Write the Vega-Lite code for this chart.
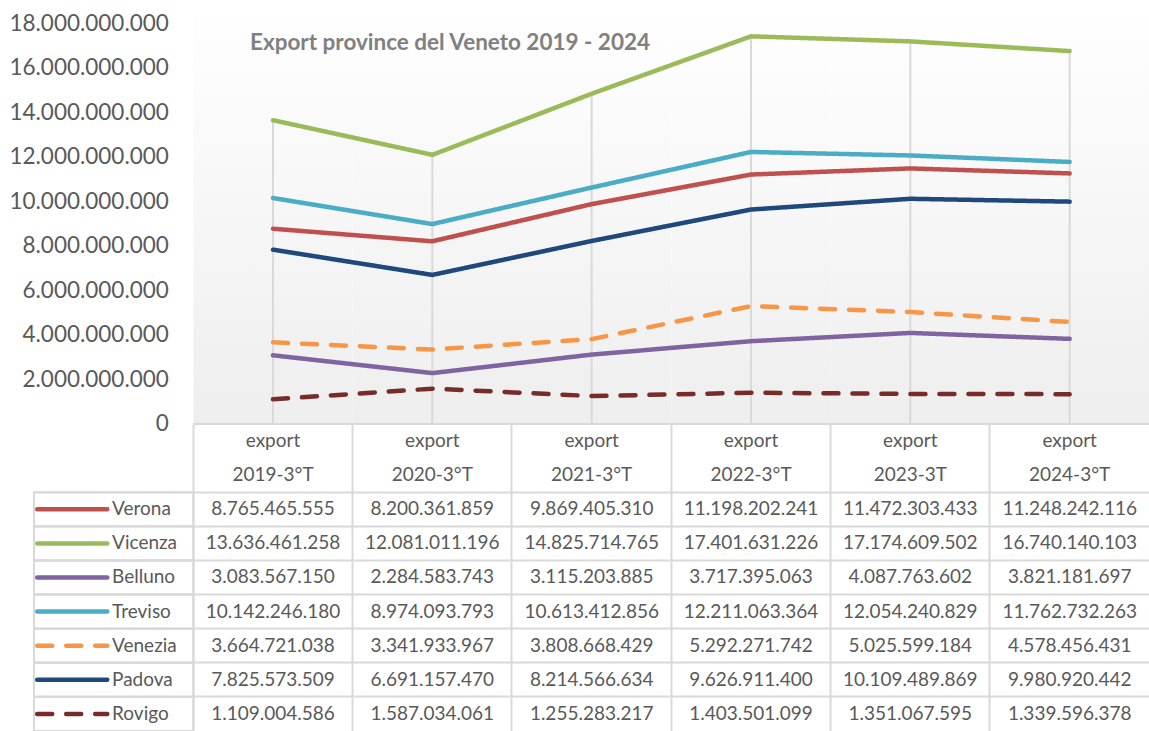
{
  "$schema": "https://vega.github.io/schema/vega-lite/v6.json",
  "padding": 0,
  "background": "white",
  "spacing": 0,
  "bounds": "flush",
  "config": {
    "font": "Lato",
    "view": {"stroke": null},
    "locale": {"number": {"decimal": ",", "thousands": ".", "grouping": [3], "currency": ["€", ""]}}
  },
  "data": {
    "values": [
      {"province": "Verona", "year": "2019-3°T", "value": 8765465555},
      {"province": "Verona", "year": "2020-3°T", "value": 8200361859},
      {"province": "Verona", "year": "2021-3°T", "value": 9869405310},
      {"province": "Verona", "year": "2022-3°T", "value": 11198202241},
      {"province": "Verona", "year": "2023-3T", "value": 11472303433},
      {"province": "Verona", "year": "2024-3°T", "value": 11248242116},
      {"province": "Vicenza", "year": "2019-3°T", "value": 13636461258},
      {"province": "Vicenza", "year": "2020-3°T", "value": 12081011196},
      {"province": "Vicenza", "year": "2021-3°T", "value": 14825714765},
      {"province": "Vicenza", "year": "2022-3°T", "value": 17401631226},
      {"province": "Vicenza", "year": "2023-3T", "value": 17174609502},
      {"province": "Vicenza", "year": "2024-3°T", "value": 16740140103},
      {"province": "Belluno", "year": "2019-3°T", "value": 3083567150},
      {"province": "Belluno", "year": "2020-3°T", "value": 2284583743},
      {"province": "Belluno", "year": "2021-3°T", "value": 3115203885},
      {"province": "Belluno", "year": "2022-3°T", "value": 3717395063},
      {"province": "Belluno", "year": "2023-3T", "value": 4087763602},
      {"province": "Belluno", "year": "2024-3°T", "value": 3821181697},
      {"province": "Treviso", "year": "2019-3°T", "value": 10142246180},
      {"province": "Treviso", "year": "2020-3°T", "value": 8974093793},
      {"province": "Treviso", "year": "2021-3°T", "value": 10613412856},
      {"province": "Treviso", "year": "2022-3°T", "value": 12211063364},
      {"province": "Treviso", "year": "2023-3T", "value": 12054240829},
      {"province": "Treviso", "year": "2024-3°T", "value": 11762732263},
      {"province": "Venezia", "year": "2019-3°T", "value": 3664721038},
      {"province": "Venezia", "year": "2020-3°T", "value": 3341933967},
      {"province": "Venezia", "year": "2021-3°T", "value": 3808668429},
      {"province": "Venezia", "year": "2022-3°T", "value": 5292271742},
      {"province": "Venezia", "year": "2023-3T", "value": 5025599184},
      {"province": "Venezia", "year": "2024-3°T", "value": 4578456431},
      {"province": "Padova", "year": "2019-3°T", "value": 7825573509},
      {"province": "Padova", "year": "2020-3°T", "value": 6691157470},
      {"province": "Padova", "year": "2021-3°T", "value": 8214566634},
      {"province": "Padova", "year": "2022-3°T", "value": 9626911400},
      {"province": "Padova", "year": "2023-3T", "value": 10109489869},
      {"province": "Padova", "year": "2024-3°T", "value": 9980920442},
      {"province": "Rovigo", "year": "2019-3°T", "value": 1109004586},
      {"province": "Rovigo", "year": "2020-3°T", "value": 1587034061},
      {"province": "Rovigo", "year": "2021-3°T", "value": 1255283217},
      {"province": "Rovigo", "year": "2022-3°T", "value": 1403501099},
      {"province": "Rovigo", "year": "2023-3T", "value": 1351067595},
      {"province": "Rovigo", "year": "2024-3°T", "value": 1339596378}
    ]
  },
  "resolve": {"scale": {"x": "independent", "y": "independent", "color": "shared", "strokeDash": "shared", "strokeWidth": "shared"}},
  "vconcat": [
    {
      "width": 1115.333,
      "height": 424,
      "layer": [
        {
          "transform": [{"filter": "datum.province === 'Vicenza'"}],
          "mark": {"type": "rect", "color": {"gradient": "linear", "x1": 0, "y1": 0, "x2": 0, "y2": 1, "stops": [{"offset": 0, "color": "#ffffff"}, {"offset": 1, "color": "#eeeeee"}]}},
          "encoding": {
            "x": {
              "field": "year", "type": "nominal",
              "scale": {"type": "band", "paddingInner": 0, "paddingOuter": 0, "domain": ["legend", "2019-3°T", "2020-3°T", "2021-3°T", "2022-3°T", "2023-3T", "2024-3°T"]},
              "axis": null
            },
            "y": {
              "datum": 19032418953, "type": "quantitative",
              "scale": {"domain": [0, 19032418953], "nice": false, "zero": true},
              "axis": {"title": null, "offset": -159.333, "values": [0, 2000000000, 4000000000, 6000000000, 8000000000, 10000000000, 12000000000, 14000000000, 16000000000, 18000000000], "format": ",d", "labelFontSize": 22.5, "labelColor": "#595959", "labelPadding": 25, "ticks": false, "domain": false, "grid": false}
            },
            "y2": {"datum": 0}
          }
        },
        {
          "transform": [{"filter": "datum.province === 'Vicenza'"}],
          "mark": {"type": "rule", "color": "#d9d9d9", "strokeWidth": 2},
          "encoding": {
            "x": {"field": "year", "type": "nominal", "bandPosition": 0.5},
            "y": {"field": "value", "type": "quantitative"},
            "y2": {"datum": 0}
          }
        },
        {
          "mark": {"type": "line", "strokeCap": "round", "strokeJoin": "round"},
          "encoding": {
            "x": {"field": "year", "type": "nominal", "bandPosition": 0.5},
            "y": {"field": "value", "type": "quantitative"},
            "color": {
              "field": "province", "type": "nominal",
              "scale": {"domain": ["Verona", "Vicenza", "Belluno", "Treviso", "Venezia", "Padova", "Rovigo"], "range": ["#c0504d", "#9bbb59", "#8064a2", "#4bacc6", "#f79646", "#1f497d", "#772c2a"]},
              "legend": null
            },
            "strokeDash": {
              "field": "province", "type": "nominal",
              "scale": {"domain": ["Verona", "Vicenza", "Belluno", "Treviso", "Venezia", "Padova", "Rovigo"], "range": [[1, 0], [1, 0], [1, 0], [1, 0], [15, 14], [1, 0], [15, 14]]},
              "legend": null
            },
            "strokeWidth": {
              "field": "province", "type": "nominal",
              "scale": {"domain": ["Verona", "Vicenza", "Belluno", "Treviso", "Venezia", "Padova", "Rovigo"], "range": [4.5, 4.5, 4.5, 4.5, 6.5, 4.5, 6.5]},
              "legend": null
            }
          }
        },
        {
          "data": {"values": [{}]},
          "mark": {"type": "text", "align": "left", "baseline": "middle", "dx": -23, "dy": 1, "fontSize": 22.5, "fontWeight": "bold", "color": "#808080"},
          "encoding": {
            "x": {"datum": "2019-3°T", "bandPosition": 0.5},
            "y": {"datum": 17147000000},
            "text": {"value": "Export province del Veneto 2019 - 2024"}
          }
        }
      ]
    },
    {
      "width": 1115.333,
      "height": 307,
      "encoding": {
        "x": {
          "field": "year", "type": "nominal",
          "scale": {"type": "band", "paddingInner": 0, "paddingOuter": 0, "domain": ["legend", "2019-3°T", "2020-3°T", "2021-3°T", "2022-3°T", "2023-3T", "2024-3°T"]},
          "axis": {"orient": "top", "labels": false, "ticks": false, "domain": false, "title": null, "grid": true, "gridWidth": 2, "bandPosition": 0, "gridColor": {"condition": {"test": "datum.value === 'legend'", "value": "transparent"}, "value": "#d9d9d9"}, "minExtent": 0, "maxExtent": 0}
        },
        "y": {
          "field": "province", "type": "nominal",
          "scale": {"type": "band", "paddingInner": 0, "paddingOuter": 0, "domain": ["h1", "h2", "Verona", "Vicenza", "Belluno", "Treviso", "Venezia", "Padova", "Rovigo"]},
          "axis": {"orient": "left", "labels": false, "ticks": false, "domain": false, "title": null, "grid": true, "gridWidth": 2, "bandPosition": 0, "gridColor": {"condition": {"test": "datum.value === 'h1' || datum.value === 'h2'", "value": "transparent"}, "value": "#d9d9d9"}, "minExtent": 34, "maxExtent": 34}
        }
      },
      "layer": [
        {
          "transform": [{"aggregate": [{"op": "count", "as": "n"}], "groupby": ["province"]}],
          "mark": {"type": "rect", "filled": false, "stroke": "#d9d9d9", "strokeWidth": 2},
          "encoding": {"x": {"datum": "legend"}}
        },
        {
          "data": {"values": [{}]},
          "mark": {"type": "rule", "color": "#d9d9d9", "strokeWidth": 2},
          "encoding": {
            "x": {"datum": "2019-3°T", "bandPosition": 0},
            "x2": {"datum": "2024-3°T", "bandPosition": 1},
            "y": {"datum": "h1", "bandPosition": 0}
          }
        },
        {
          "mark": {"type": "text", "fontSize": 19, "color": "#595959", "baseline": "middle"},
          "encoding": {"text": {"field": "value", "type": "quantitative", "format": ",d"}}
        },
        {
          "transform": [{"aggregate": [{"op": "count", "as": "n"}], "groupby": ["year"]}],
          "mark": {"type": "text", "fontSize": 19, "color": "#595959", "baseline": "middle"},
          "encoding": {"y": {"datum": "h1"}, "text": {"value": "export"}}
        },
        {
          "transform": [{"aggregate": [{"op": "count", "as": "n"}], "groupby": ["year"]}],
          "mark": {"type": "text", "fontSize": 19, "color": "#595959", "baseline": "middle"},
          "encoding": {"y": {"datum": "h2"}, "text": {"field": "year", "type": "nominal"}}
        },
        {
          "transform": [{"aggregate": [{"op": "count", "as": "n"}], "groupby": ["province"]}],
          "mark": {"type": "text", "fontSize": 19, "color": "#595959", "baseline": "middle", "align": "left"},
          "encoding": {"x": {"datum": "legend", "bandPosition": 0.49}, "text": {"field": "province", "type": "nominal"}}
        },
        {
          "transform": [{"aggregate": [{"op": "count", "as": "n"}], "groupby": ["province"]}],
          "mark": {"type": "rule", "strokeCap": "round"},
          "encoding": {
            "x": {"datum": "legend", "bandPosition": 0.02},
            "x2": {"datum": "legend", "bandPosition": 0.46},
            "color": {"field": "province", "type": "nominal", "legend": null},
            "strokeDash": {"field": "province", "type": "nominal", "legend": null},
            "strokeWidth": {"field": "province", "type": "nominal", "legend": null}
          }
        }
      ]
    }
  ]
}
